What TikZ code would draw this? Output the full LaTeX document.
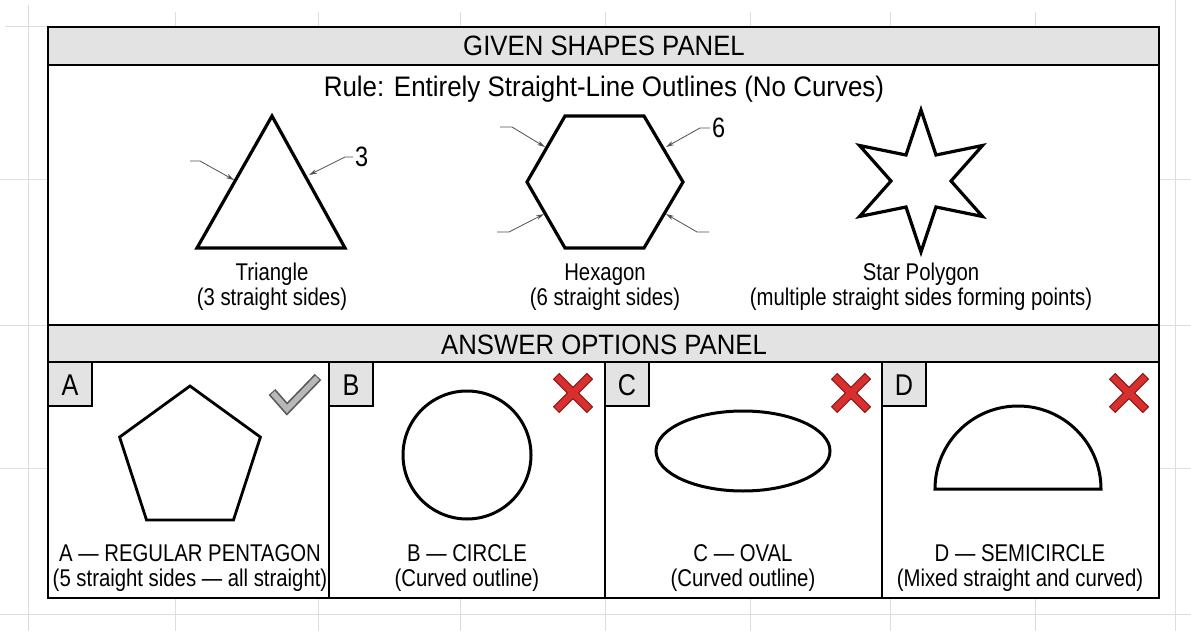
\documentclass[tikz,border=0pt]{standalone}
\usepackage{fontspec}
\setmainfont{Liberation Sans}
\newfontfamily\narrowfont[FakeStretch=0.84]{Liberation Sans}
\newfontfamily\titlefont[FakeStretch=0.92]{Liberation Sans}
\usetikzlibrary{arrows.meta}
\definecolor{bandgray}{HTML}{E3E3E3}
\definecolor{xred}{HTML}{D8302E}
\definecolor{xdark}{HTML}{8A1A18}
\definecolor{gridgray}{HTML}{DEDEDE}
\definecolor{leadgray}{HTML}{505050}
\definecolor{checkfill}{HTML}{B8B8B8}
\definecolor{checkedge}{HTML}{5A5A5A}
\begin{document}
\begin{tikzpicture}[x=1pt,y=-1pt,
  framebox/.style={draw=black, line width=2.4pt},
  band/.style={fill=bandgray, draw=black, line width=2pt},
  divider/.style={draw=black, line width=2pt},
  shapeline/.style={draw=black, line width=3.2pt, line join=miter},
  curveline/.style={draw=black, line width=3pt},
  leader/.style={draw=leadgray, line width=0.8pt, -{Stealth[length=8pt,width=4.5pt]}},
  bandtitle/.style={font=\titlefont\fontsize{28}{30}\selectfont, anchor=base, inner sep=0pt},
  ruletext/.style={font=\titlefont\fontsize{28.2}{30}\selectfont, anchor=base, inner sep=0pt},
  lbl/.style={font=\narrowfont\fontsize{24.2}{26}\selectfont, anchor=base, inner sep=0pt},
  countlbl/.style={font=\narrowfont\fontsize{28}{30}\selectfont, anchor=west, inner sep=0pt},
  letterbox/.style={fill=bandgray, draw=black, line width=1.8pt},
  lettertext/.style={font=\narrowfont\fontsize{30}{32}\selectfont, anchor=base, inner sep=0pt},
  gridline/.style={draw=gridgray, line width=1pt}
]
\useasboundingbox (0,0) rectangle (1191,631);
\fill[white] (0,0) rectangle (1191,631);

% faint page grid
\draw[gridline] (28,5) -- (28,631);
\draw[gridline] (5,27) -- (48,27);
\draw[gridline] (1175,0) -- (1175,631);
\draw[gridline] (0,614) -- (1191,614);
\foreach \gx in {175,318,460,605,750,890,1035} {
  \draw[gridline] (\gx,12) -- (\gx,27);
  \draw[gridline] (\gx,598) -- (\gx,631);
}
\foreach \gy in {180,325,468} {
  \draw[gridline] (0,\gy) -- (48,\gy);
  \draw[gridline] (1159,\gy) -- (1191,\gy);
}

% bands
\draw[band] (48,27) rectangle (1159,65);
\draw[band] (48,325) rectangle (1159,362);
% column dividers
\draw[divider] (329,362) -- (329,598);
\draw[divider] (605,362) -- (605,598);
\draw[divider] (882,362) -- (882,598);
% outer frame
\draw[framebox] (48,27) rectangle (1159,598);

\node[bandtitle] (given) at (604,56) {GIVEN SHAPES PANEL};
\node[ruletext] (rule) at (604,97) {Rule: Entirely Straight-Line Outlines (No Curves)};
\node[bandtitle] (answer) at (604,354) {ANSWER OPTIONS PANEL};

% ---------- triangle
\draw[shapeline] (272,116) -- (197,248) -- (345,248) -- cycle;
\coordinate (triL0) at (190,161);
\coordinate (triL) at (234,180);
\coordinate (triR) at (309,175);
\node[countlbl] (three) at (355,157) {3};
\draw[leader] (triL0) -- ++(10,0) -- (triL);
\draw[leader] (three.west) ++(-2,0) -- ++(-8,0) -- (triR);
\node[lbl] (trin) at (272,280) {Triangle};
\node[lbl] (trid) at (272,305) {(3 straight sides)};

% ---------- hexagon
\draw[shapeline] (565,116) -- (644,116) -- (683,182) -- (644,248) -- (565,248) -- (527,182) -- cycle;
\coordinate (hTL0) at (500,127);
\coordinate (hTL) at (545,147);
\coordinate (hBL0) at (497,232);
\coordinate (hBL) at (544,214);
\coordinate (hBR0) at (709,232);
\coordinate (hBR) at (666,214);
\coordinate (hTR) at (666,147);
\node[countlbl] (six) at (712,128) {6};
\draw[leader] (hTL0) -- ++(12,0) -- (hTL);
\draw[leader] (hBL0) -- ++(12,0) -- (hBL);
\draw[leader] (hBR0) -- ++(-12,0) -- (hBR);
\draw[leader] (six.west) ++(-2,0) -- ++(-10,0) -- (hTR);
\node[lbl] (hexn) at (605,280) {Hexagon};
\node[lbl] (hexd) at (605,305) {(6 straight sides)};

% ---------- star
\draw[shapeline] (921,110) -- (936,155) -- (982.5,145.5) -- (951,181) -- (982.5,216.5) -- (936,207)
  -- (921,252) -- (906,207) -- (859.5,216.5) -- (891,181) -- (859.5,145.5) -- (906,155) -- cycle;
\node[lbl] (starn) at (921,280) {Star Polygon};
\node[lbl] (stard) at (921,305) {(multiple straight sides forming points)};

% ---------- letter boxes
\draw[letterbox] (48,362) rectangle (92,406);
\draw[letterbox] (329,362) rectangle (373,406);
\draw[letterbox] (605,362) rectangle (649,406);
\draw[letterbox] (882,362) rectangle (926,406);
\node[lettertext] (la) at (70,395) {A};
\node[lettertext] (lb) at (351,395) {B};
\node[lettertext] (lc) at (627,395) {C};
\node[lettertext] (ld) at (904,395) {D};

% ---------- check mark (A)
\draw[checkedge, line width=9pt, line join=miter] (272,392) -- (287,409) -- (318,377);
\draw[checkfill, line width=5.6pt, line join=miter, shorten <=1.2pt, shorten >=1.2pt] (272,392) -- (287,409) -- (318,377);

% ---------- red crosses
\foreach \cx in {573,851,1129} {
  \draw[xdark, line width=9pt] (\cx-17,376) -- (\cx+17,410);
  \draw[xdark, line width=9pt] (\cx-17,410) -- (\cx+17,376);
}
\foreach \cx in {573,851,1129} {
  \draw[xred, line width=6.4pt, shorten <=1.2pt, shorten >=1.2pt] (\cx-17,376) -- (\cx+17,410);
  \draw[xred, line width=6.4pt, shorten <=1.2pt, shorten >=1.2pt] (\cx-17,410) -- (\cx+17,376);
}

% ---------- answer shapes
\draw[shapeline, line width=2.8pt] (190,386) -- (260.4,437.1) -- (233.5,519.9) -- (146.5,519.9) -- (119.6,437.1) -- cycle;
\draw[curveline] (467,455) circle [radius=64];
\draw[curveline] (743,451) ellipse [x radius=87, y radius=40];
\draw[curveline, line join=miter] (935,489) arc [start angle=180, end angle=360, radius=83] -- cycle;

% ---------- answer labels
\node[lbl] (aa) at (190,561) {A — REGULAR PENTAGON};
\node[lbl] (ab) at (190,586) {(5 straight sides — all straight)};
\node[lbl] (ba) at (467,561) {B — CIRCLE};
\node[lbl] (bb) at (467,586) {(Curved outline)};
\node[lbl] (ca) at (743,561) {C — OVAL};
\node[lbl] (cb) at (743,586) {(Curved outline)};
\node[lbl] (da) at (1020,561) {D — SEMICIRCLE};
\node[lbl] (db) at (1020,586) {(Mixed straight and curved)};
\end{tikzpicture}
\end{document}
